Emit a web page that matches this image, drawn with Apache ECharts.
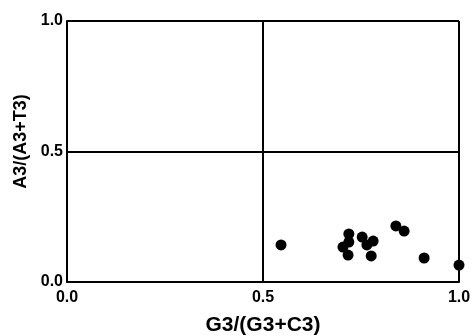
<!DOCTYPE html>
<html><head><meta charset="utf-8">
<script src="https://cdn.jsdelivr.net/npm/echarts@6/dist/echarts.min.js"></script>
<style>html,body{margin:0;padding:0;background:#fff}#c{width:476px;height:336px}</style>
</head><body><div id="c"></div>
<script>
const xValues = [0.546, 0.719, 0.719, 0.704, 0.717, 0.753, 0.765, 0.781, 0.776, 0.839, 0.860, 0.911, 1.0];
const yValues = [0.142, 0.184, 0.153, 0.134, 0.103, 0.172, 0.142, 0.157, 0.100, 0.215, 0.195, 0.092, 0.065];
const xName = 'G3/(G3+C3)';
const yName = 'A3/(A3+T3)';
const tickLabels = ['0.0', '0.5', '1.0'];

const chart = echarts.init(document.getElementById('c'));
const font = {fontFamily: 'Liberation Sans, Arial, sans-serif', fontWeight: 'bold', color: '#000'};
const axisCommon = {
  min: 0, max: 1, interval: 0.5,
  axisLine: {show: true, onZero: false, lineStyle: {color: '#000', width: 2}},
  axisTick: {show: false},
  splitLine: {show: true, lineStyle: {color: '#000', width: 2}},
  axisLabel: Object.assign({fontSize: 16, formatter: v => tickLabels[Math.round(v * 2)]}, font),
  nameLocation: 'middle'
};
chart.setOption({
  animation: false,
  grid: {left: 67, right: 17, top: 21, bottom: 54, containLabel: false, outerBoundsMode: 'none'},
  xAxis: Object.assign({}, axisCommon, {type: 'value', name: xName, nameGap: 33,
    nameTextStyle: Object.assign({fontSize: 21}, font),
    axisLabel: Object.assign({}, axisCommon.axisLabel, {margin: 8})}),
  yAxis: Object.assign({}, axisCommon, {type: 'value', name: yName, nameGap: 37,
    nameTextStyle: Object.assign({fontSize: 18, padding: [0, 0, 0, 20]}, font),
    axisLabel: Object.assign({}, axisCommon.axisLabel, {margin: 4})}),
  series: [{
    type: 'scatter',
    data: xValues.map((x, i) => [x, yValues[i]]),
    symbol: 'circle', symbolSize: 11,
    itemStyle: {color: '#000', opacity: 1},
    clip: false
  }]
});
</script></body></html>
